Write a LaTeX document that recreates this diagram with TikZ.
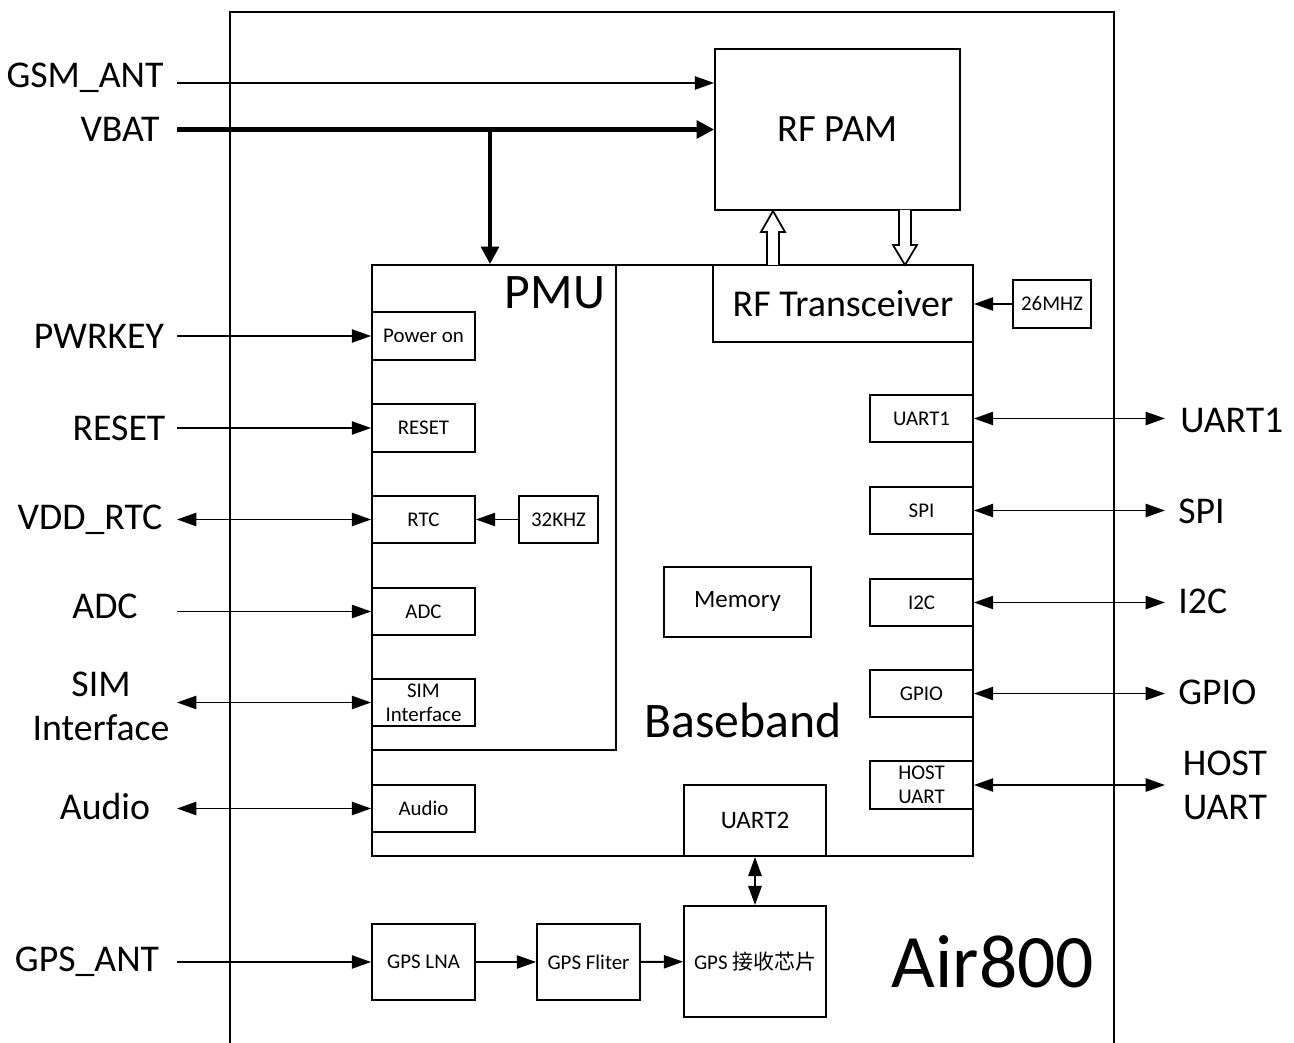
\documentclass[tikz,border=0pt]{standalone}
\usepackage{fontspec}
\setmainfont{Carlito}
\newfontfamily\cjk{Noto Sans CJK SC}
\usepackage{xcolor}
\usepackage{tikz}
\usetikzlibrary{arrows.meta, positioning}

\tikzset{
  blk/.style={draw, line width=1pt, inner sep=0pt, align=center, font=\fontsize{11.9}{13.8}\selectfont},
  sbox/.style={blk, minimum width=2.06cm, minimum height=0.95cm},
  pin/.style={font=\fontsize{21.5}{25}\selectfont, align=center, inner sep=0pt},
  sig/.style={line width=1.1pt, -{Triangle[length=11pt, width=7.5pt]}},
  bisig/.style={line width=1.1pt, {Triangle[length=11pt, width=7.5pt]}-{Triangle[length=11pt, width=7.5pt]}},
  power/.style={line width=2.4pt, -{Triangle[length=10pt, width=10pt]}},
  hollow/.style={draw, line width=1pt, fill=white, line join=miter},
}

\begin{document}
\begin{tikzpicture}[x=0.02cm, y=-0.02cm]
    \useasboundingbox (0,0) rectangle (1294,1043);

    % Module frame
    \draw[line width=1pt] (230,1043) |- (1114,12) -- (1114,1043);
    \node[font=\fontsize{43}{43}\selectfont, inner sep=0pt] (air) at (993,962) {Air800};

    % Main blocks
    \node[blk, minimum width=4.9cm, minimum height=3.22cm, font=\fontsize{22}{25}\selectfont] (rfpam) at (837.5,129.5) {RF PAM};
    \node[blk, minimum width=12.02cm, minimum height=11.82cm] (bb) at (672.5,560.5) {};
    \node[blk, minimum width=4.88cm, minimum height=9.7cm] (pmu) at (494,507.5) {};
    \node[blk, minimum width=5.2cm, minimum height=1.54cm, font=\fontsize{21.6}{25}\selectfont] (rftx) at (843,303.5) {RF Transceiver};
    \node[font=\fontsize{28.3}{28}\selectfont, inner sep=0pt] (pmulbl) at (555,293) {PMU};
    \node[font=\fontsize{28.3}{28}\selectfont, inner sep=0pt] (bblbl) at (743,720) {Baseband};

    % PMU blocks
    \node[sbox] (pwron) at (423.5,336) {Power on};
    \node[sbox] (rst) at (423.5,428) {RESET};
    \node[sbox] (rtc) at (423.5,519.5) {RTC};
    \node[sbox] (adc) at (423.5,611.5) {ADC};
    \node[sbox] (sim) at (423.5,702.5) {SIM\\Interface};
    \node[sbox] (audio) at (423.5,808.5) {Audio};
    \node[sbox, minimum width=1.58cm] (khz) at (558.5,519.5) {32KHZ};
    \node[sbox, minimum width=1.56cm] (mhz) at (1052,304) {26MHZ};
    \node[blk, minimum width=2.94cm, minimum height=1.4cm, font=\fontsize{14.2}{16}\selectfont] (mem) at (737.5,602) {Memory};

    % Baseband ports
    \node[sbox] (uart1) at (921.5,418.5) {UART1};
    \node[sbox] (spi) at (921.5,510.5) {SPI};
    \node[sbox] (i2c) at (921.5,602.5) {I2C};
    \node[sbox] (gpio) at (921.5,693.5) {GPIO};
    \node[sbox] (host) at (921.5,785) {HOST\\UART};
    \node[blk, minimum width=2.84cm, minimum height=1.42cm, font=\fontsize{14.3}{16}\selectfont] (uart2) at (755,820.5) {UART2};

    % GPS chain
    \node[sbox, minimum height=1.52cm] (lna) at (423.5,962) {GPS LNA};
    \node[sbox, minimum height=1.52cm] (filt) at (588.5,962) {GPS Fliter};
    \node[blk, minimum width=2.84cm, minimum height=2.22cm] (gpsic) at (755,961.5) {GPS {\cjk 接收芯片}};

    % Pin labels
    \node[pin] (gsmlbl) at (85,78) {GSM\_ANT};
    \node[pin] (vbatlbl) at (120,129) {VBAT};
    \node[pin] (pwrlbl) at (99,336) {PWRKEY};
    \node[pin] (rstlbl) at (119,428) {RESET};
    \node[pin] (vddlbl) at (90,520) {VDD\_RTC};
    \node[pin] (adclbl) at (105,606) {ADC};
    \node[pin] (simlbl) at (101,706) {SIM\\Interface};
    \node[pin] (audiolbl) at (105,807) {Audio};
    \node[pin] (gpslbl) at (87,962) {GPS\_ANT};
    \node[pin, anchor=west] (uart1lbl) at (1180,420) {UART1};
    \node[pin, anchor=west] (spilbl) at (1178,511) {SPI};
    \node[pin, anchor=west] (i2clbl) at (1178,601) {I2C};
    \node[pin, anchor=west] (gpiolbl) at (1178,692) {GPIO};
    \node[pin] (hostlbl) at (1225,785) {HOST\\UART};

    % Connectors
    \coordinate (inx) at (177,0);
    \coordinate (outx) at (1165,0);
    \coordinate (gsmin) at (177,83);
    \coordinate (tap) at (490,129.5);

    \draw[sig] (gsmin) -- (gsmin -| rfpam.west);
    \draw[power] (rfpam.west -| inx) -- (rfpam.west);
    \draw[power] (tap) -- (tap |- pmu.north);

    \draw[sig] (pwron.west -| inx) -- (pwron.west);
    \draw[sig] (rst.west -| inx) -- (rst.west);
    \draw[bisig] (rtc.west -| inx) -- (rtc.west);
    \draw[sig] (adc.west -| inx) -- (adc.west);
    \draw[bisig] (sim.west -| inx) -- (sim.west);
    \draw[bisig] (audio.west -| inx) -- (audio.west);
    \draw[sig] (khz.west) -- (rtc.east);
    \draw[sig] (mhz.west) -- (rftx.east |- mhz.west);

    \draw[bisig] (uart1.east) -- (uart1.east -| outx);
    \draw[bisig] (spi.east) -- (spi.east -| outx);
    \draw[bisig] (i2c.east) -- (i2c.east -| outx);
    \draw[bisig] (gpio.east) -- (gpio.east -| outx);
    \draw[bisig] (host.east) -- (host.east -| outx);

    \draw[bisig, line width=1.6pt] (uart2.south) -- (gpsic.north);
    \draw[sig] (lna.west -| inx) -- (lna.west);
    \draw[sig] (lna) -- (filt);
    \draw[sig] (filt) -- (gpsic);

    % RF PAM <-> RF Transceiver
    \draw[hollow] (767,265) -- (767,232) -- (761,232) -- (773,211) -- (785,232) -- (779,232) -- (779,265);
    \draw[hollow] (899,210) -- (899,245) -- (893,245) -- (905,265) -- (917,245) -- (911,245) -- (911,210);
\end{tikzpicture}
\end{document}
